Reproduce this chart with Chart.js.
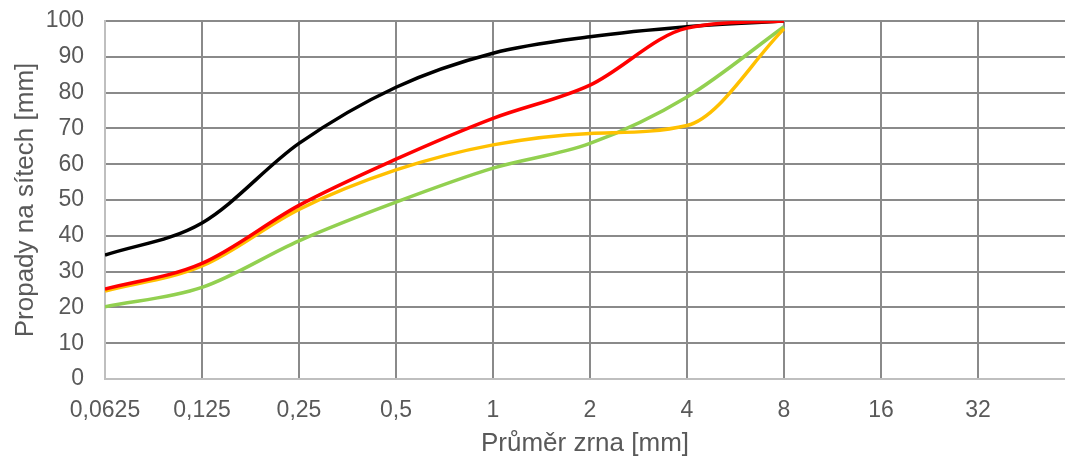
<!DOCTYPE html>
<html>
<head>
<meta charset="utf-8">
<script src="https://cdn.jsdelivr.net/npm/chart.js@4/dist/chart.umd.min.js"></script>
<style>
  html, body { margin: 0; padding: 0; background: #fff; overflow: hidden; }
  #wrap { width: 1065px; height: 459px; }
</style>
</head>
<body>
<div id="wrap"><canvas id="c" width="1065" height="459"></canvas></div>
<script>
// sieve sizes [mm] and passing percentages
var sieves = [0.0625, 0.125, 0.25, 0.5, 1, 2, 4, 8];
var xTicks = [0.0625, 0.125, 0.25, 0.5, 1, 2, 4, 8, 16, 32];
var yTicks = [0, 10, 20, 30, 40, 50, 60, 70, 80, 90, 100];

var redLine    = [25.1, 32.3, 48.5, 61.4, 72.8, 82.1, 98.0, 100];
var blackLine  = [34.6, 43.6, 65.8, 81.5, 91.0, 95.6, 98.4, 100];
var yellowLine = [24.6, 31.6, 47.4, 58.4, 65.4, 68.6, 70.8, 97.8];
var greenLine  = [20.2, 25.6, 38.6, 49.4, 58.9, 65.8, 78.8, 98.4];

function pts(vals) {
	var out = [];
	for (var i = 0; i < sieves.length; i++) out.push({x: sieves[i], y: vals[i]});
	return out;
}

function ds(vals, col) {
	return {
		data: pts(vals),
		borderColor: col,
		backgroundColor: col,
		borderWidth: 3.5,
		pointRadius: 0,
		cubicInterpolationMode: 'monotone',
		fill: false
	};
}

var gridCol = '#8a8a8a';
var txtCol = '#595959';
var fam = '"Liberation Sans", Arial, sans-serif';

new Chart(document.getElementById('c'), {
	type: 'line',
	data: {
		datasets: [
			ds(redLine, '#ff0000'),
			ds(blackLine, '#000000'),
			ds(yellowLine, '#ffc000'),
			ds(greenLine, '#92d050')
		]
	},
	options: {
		responsive: false,
		animation: false,
		layout: { padding: { left: 0, right: 0, top: 21, bottom: 0 } },
		plugins: { legend: { display: false }, tooltip: { enabled: false } },
		scales: {
			x: {
				type: 'logarithmic',
				min: 0.0625,
				max: 59.6,
				afterBuildTicks: function (s) {
					s.ticks = xTicks.map(function (v) { return {value: v}; });
				},
				afterFit: function (s) { s.height = 80; },
				ticks: {
					color: txtCol,
					font: { family: fam, size: 23 },
					padding: 18,
					maxRotation: 0,
					autoSkip: false,
					callback: function (v) { return String(v).replace('.', ','); }
				},
				grid: { color: gridCol, lineWidth: 2, drawTicks: false },
				border: { color: '#bfbfbf', width: 2 },
				title: {
					display: true,
					text: 'Průměr zrna [mm]',
					color: txtCol,
					font: { family: fam, size: 26 },
					padding: { top: 0, bottom: 0 }
				}
			},
			y: {
				min: 0,
				max: 100,
				afterBuildTicks: function (s) {
					s.ticks = yTicks.map(function (v) { return {value: v}; });
				},
				afterFit: function (s) {
					s.width = 105;
					s.paddingTop = 0;
					s.paddingBottom = 0;
				},
				ticks: {
					color: txtCol,
					font: { family: fam, size: 23 },
					padding: 21
				},
				grid: { color: gridCol, lineWidth: 2, drawTicks: false },
				border: { color: '#bfbfbf', width: 2 },
				title: {
					display: true,
					text: 'Propady na sítech [mm]',
					color: txtCol,
					font: { family: fam, size: 26 },
					padding: { top: 10, bottom: 0 }
				}
			}
		}
	}
});
</script>
</body>
</html>
